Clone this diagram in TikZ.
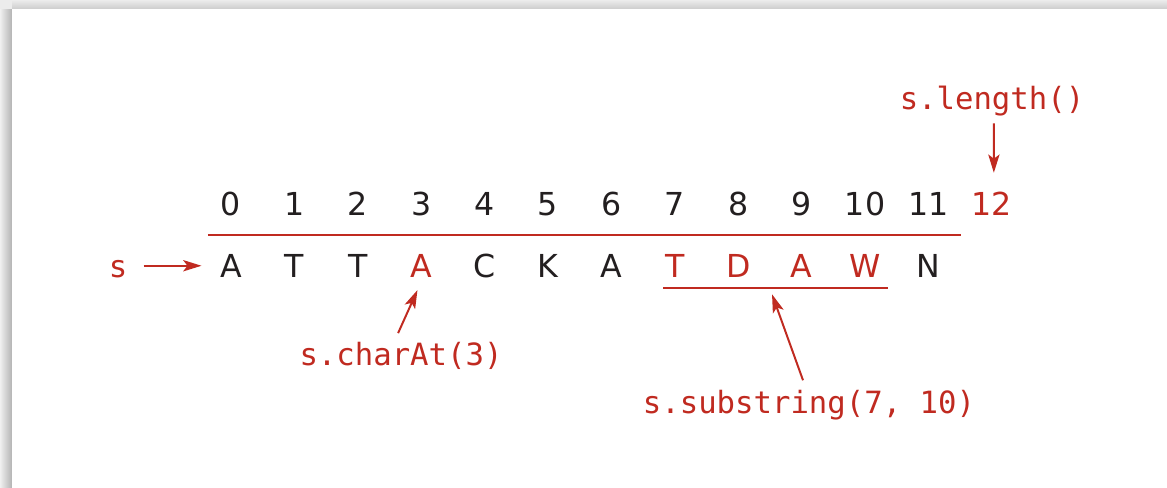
\documentclass[tikz,border=0pt]{standalone}
\usepackage{fontspec}
\setmainfont{DejaVu Sans}
\setmonofont{DejaVu Sans Mono}
\usetikzlibrary{arrows.meta}

\definecolor{strred}{RGB}{192,42,32}
\definecolor{strblack}{RGB}{35,31,32}

\begin{document}
\begin{tikzpicture}[
  every node/.style={inner sep=0pt, text height=16pt, text depth=0pt, anchor=base},
  char/.style={font=\fontsize{22.5}{26}\selectfont, text=strblack},
  hl/.style={text=strred},
  call/.style={font=\ttfamily\fontsize{21.8}{26}\selectfont, text=strred},
  redline/.style={draw=strred, line width=1.4pt},
  pointer/.style={redline, -{Stealth[length=13pt, width=8pt, inset=3pt]}}
]
\useasboundingbox (-5.775,-5.25) rectangle (23.4,6.925);
% frame with its shadow
\fill[gray!25] (-5.775,-5.25) rectangle (23.4,6.925);
\shade[left color=gray!12, right color=gray!60] (-5.775,-5.25) rectangle (-5.475,6.7);
\shade[top color=gray!15, bottom color=gray!40] (-5.475,6.7) rectangle (23.4,6.925);
\fill[gray!15] (-5.775,6.7) rectangle (-5.475,6.925);
\fill[white] (-5.475,-5.25) rectangle (23.4,6.7);

\foreach \c/\col [count=\i from 0] in {A/strblack, T/strblack, T/strblack,
    A/strred, C/strblack, K/strblack, A/strblack, T/strred, D/strred,
    A/strred, W/strred, N/strblack}
  \node[char, text=\col] (c\i) at (\i*1.585,0) {\c};
\foreach \i in {0,...,11}
  \node[char] (i\i) at (\i*1.585,1.55) {\i};
\node[char, hl] (i12) at (12*1.585,1.55) {12};

\node[call] (s) at (-2.825,0) {s};
\node[call] (charat) at (4.25,-2.2) {s.charAt(3)};
\node[call] (substr) at (14.45,-3.4) {s.substring(7, 10)};
\node[call] (len) at (19.025,4.2) {s.length()};

\draw[redline] ([xshift=-0.575cm, yshift=0.486cm]c0.north)
  -- ([xshift=0.815cm, yshift=0.486cm]c11.north);
\draw[redline] ([xshift=-0.295cm, yshift=-0.275cm]c7.south)
  -- ([xshift=0.575cm, yshift=-0.275cm]c10.south) coordinate[pos=0.475] (sub);

\draw[pointer, shorten <=0.4cm, shorten >=0.46cm] (s.east) -- (c0.west);
\draw[pointer, shorten <=0.25cm, shorten >=0.35cm]
  ([xshift=-0.175cm]charat.north) -- ([xshift=0.05cm]c3.south);
\draw[pointer, shorten <=0.265cm, shorten >=0.16cm]
  ([xshift=-0.06cm]substr.north) -- (sub);
\draw[pointer, shorten <=0.35cm, shorten >=0.486cm]
  ([xshift=0.05cm]len.south) -- ([xshift=0.05cm]i12.north);
\end{tikzpicture}
\end{document}
